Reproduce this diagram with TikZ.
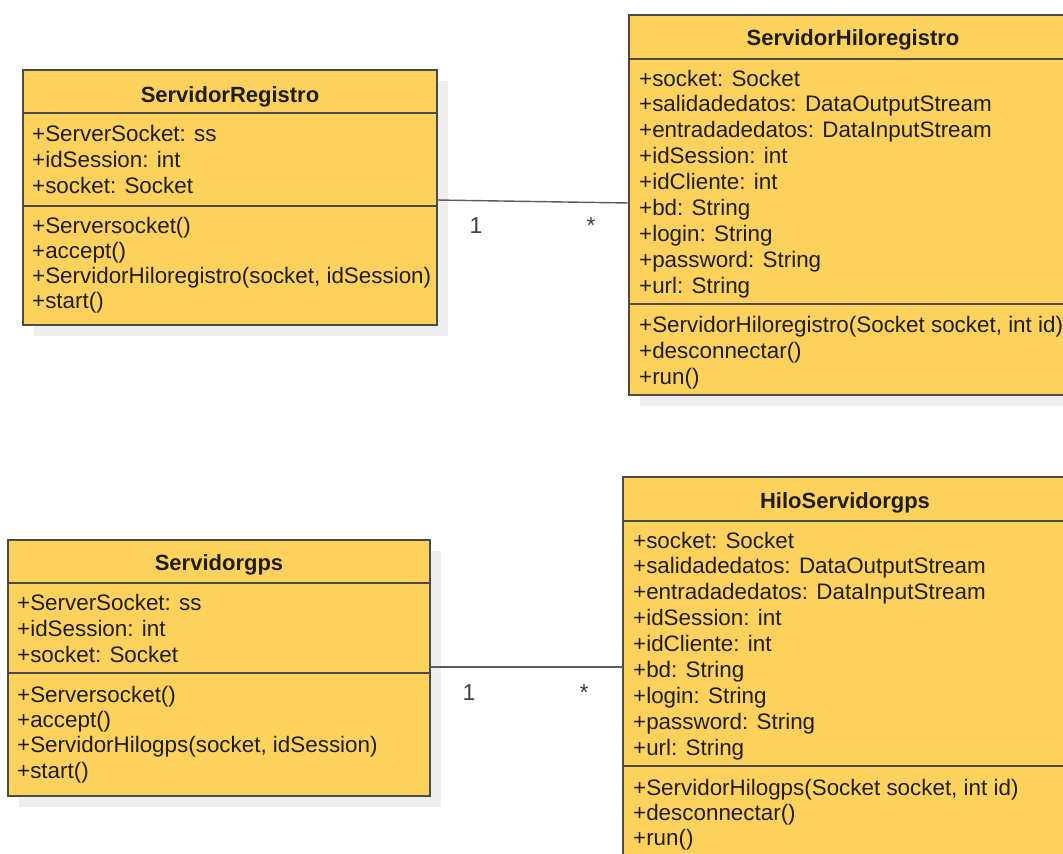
\documentclass[tikz,border=0pt]{standalone}
\usepackage{fontspec}
\setmainfont{Liberation Sans}
\usetikzlibrary{shadows}
\definecolor{classfill}{RGB}{253,210,92}
\definecolor{classline}{RGB}{74,74,74}
\definecolor{txtcol}{RGB}{30,30,30}
\definecolor{shadowcol}{RGB}{238,238,238}
\newcommand\umllines[5]{% name prefix, x, first baseline, line step, lines
  \foreach \t [count=\k] in {#5} {
    \node[umltext] (#1-\k) at (#2, {#3+#4*(\k-1)}) {\t};
  }}
\begin{document}
\begin{tikzpicture}[x=1pt, y=-1pt,
  classbox/.style={draw=classline, line width=1.4pt, fill=classfill, anchor=north west,
    inner sep=0pt, outer sep=0pt,
    drop shadow={shadow xshift=11pt, shadow yshift=-11pt, fill=shadowcol, opacity=1}},
  sep/.style={draw=classline, line width=1.4pt},
  umltext/.style={anchor=base west, inner sep=0pt, text=txtcol,
    font=\fontsize{22.4}{26}\selectfont},
  umltitle/.style={anchor=base, inner sep=0pt, text=txtcol,
    font=\fontsize{22}{26}\selectfont\bfseries},
  mult/.style={anchor=base, inner sep=0pt, text=txtcol!85,
    font=\fontsize{23}{26}\selectfont},
  assoc/.style={draw=classline!90, line width=1.4pt}]
\useasboundingbox (0,0) rectangle (1063,854);
\fill[white] (0,0) rectangle (1063,854);
\clip (0,0) rectangle (1063,854);

% ---- ServidorRegistro ----
\node[classbox, minimum width=414pt, minimum height=255pt] (reg) at (23,70) {};
\draw[sep] (reg.west |- 0,113) -- (reg.east |- 0,113);
\draw[sep] (reg.west |- 0,206) -- (reg.east |- 0,206);
\node[umltitle] (reg-title) at (230,102) {ServidorRegistro};
\umllines{rega}{32}{141}{26}{+ServerSocket: ss, +idSession: int, +socket: Socket}
\umllines{regm}{32}{233}{25}{+Serversocket(), +accept(), {+ServidorHiloregistro(socket, idSession)}, +start()}

% ---- ServidorHiloregistro ----
\node[classbox, minimum width=448pt, minimum height=380pt] (hreg) at (629,15) {};
\draw[sep] (hreg.west |- 0,59) -- (hreg.east |- 0,59);
\draw[sep] (hreg.west |- 0,304) -- (hreg.east |- 0,304);
\node[umltitle] (hreg-title) at (853,45) {ServidorHiloregistro};
\umllines{hrega}{639}{86}{25.9}{+socket: Socket, +salidadedatos: DataOutputStream, +entradadedatos: DataInputStream, +idSession: int, +idCliente: int, +bd: String, +login: String, +password: String, +url: String}
\umllines{hregm}{639}{332}{26.3}{{+ServidorHiloregistro(Socket socket, int id)}, +desconnectar(), +run()}

% ---- Servidorgps ----
\node[classbox, minimum width=422pt, minimum height=256pt] (gps) at (8,540) {};
\draw[sep] (gps.west |- 0,583) -- (gps.east |- 0,583);
\draw[sep] (gps.west |- 0,673) -- (gps.east |- 0,673);
\node[umltitle] (gps-title) at (219,570) {Servidorgps};
\umllines{gpsa}{17}{610}{26}{+ServerSocket: ss, +idSession: int, +socket: Socket}
\umllines{gpsm}{17}{702}{25.4}{+Serversocket(), +accept(), {+ServidorHilogps(socket, idSession)}, +start()}

% ---- HiloServidorgps ----
\node[classbox, minimum width=444pt, minimum height=400pt] (hgps) at (623,477) {};
\draw[sep] (hgps.west |- 0,521) -- (hgps.east |- 0,521);
\draw[sep] (hgps.west |- 0,766) -- (hgps.east |- 0,766);
\node[umltitle] (hgps-title) at (845,508) {HiloServidorgps};
\umllines{hgpsa}{633}{548}{25.9}{+socket: Socket, +salidadedatos: DataOutputStream, +entradadedatos: DataInputStream, +idSession: int, +idCliente: int, +bd: String, +login: String, +password: String, +url: String}
\umllines{hgpsm}{633}{795}{25.2}{{+ServidorHilogps(Socket socket, int id)}, +desconnectar(), +run()}

% ---- associations ----
\draw[assoc] (reg.east |- 0,200) -- (hreg.west |- 0,203);
\node[mult] (reg-m1) at (476,233) {1};
\node[mult] (reg-m2) at (591,233) {*};
\draw[assoc] (gps.east |- 0,667) -- (hgps.west |- 0,667);
\node[mult] (gps-m1) at (469,700) {1};
\node[mult] (gps-m2) at (584,700) {*};
\end{tikzpicture}
\end{document}
